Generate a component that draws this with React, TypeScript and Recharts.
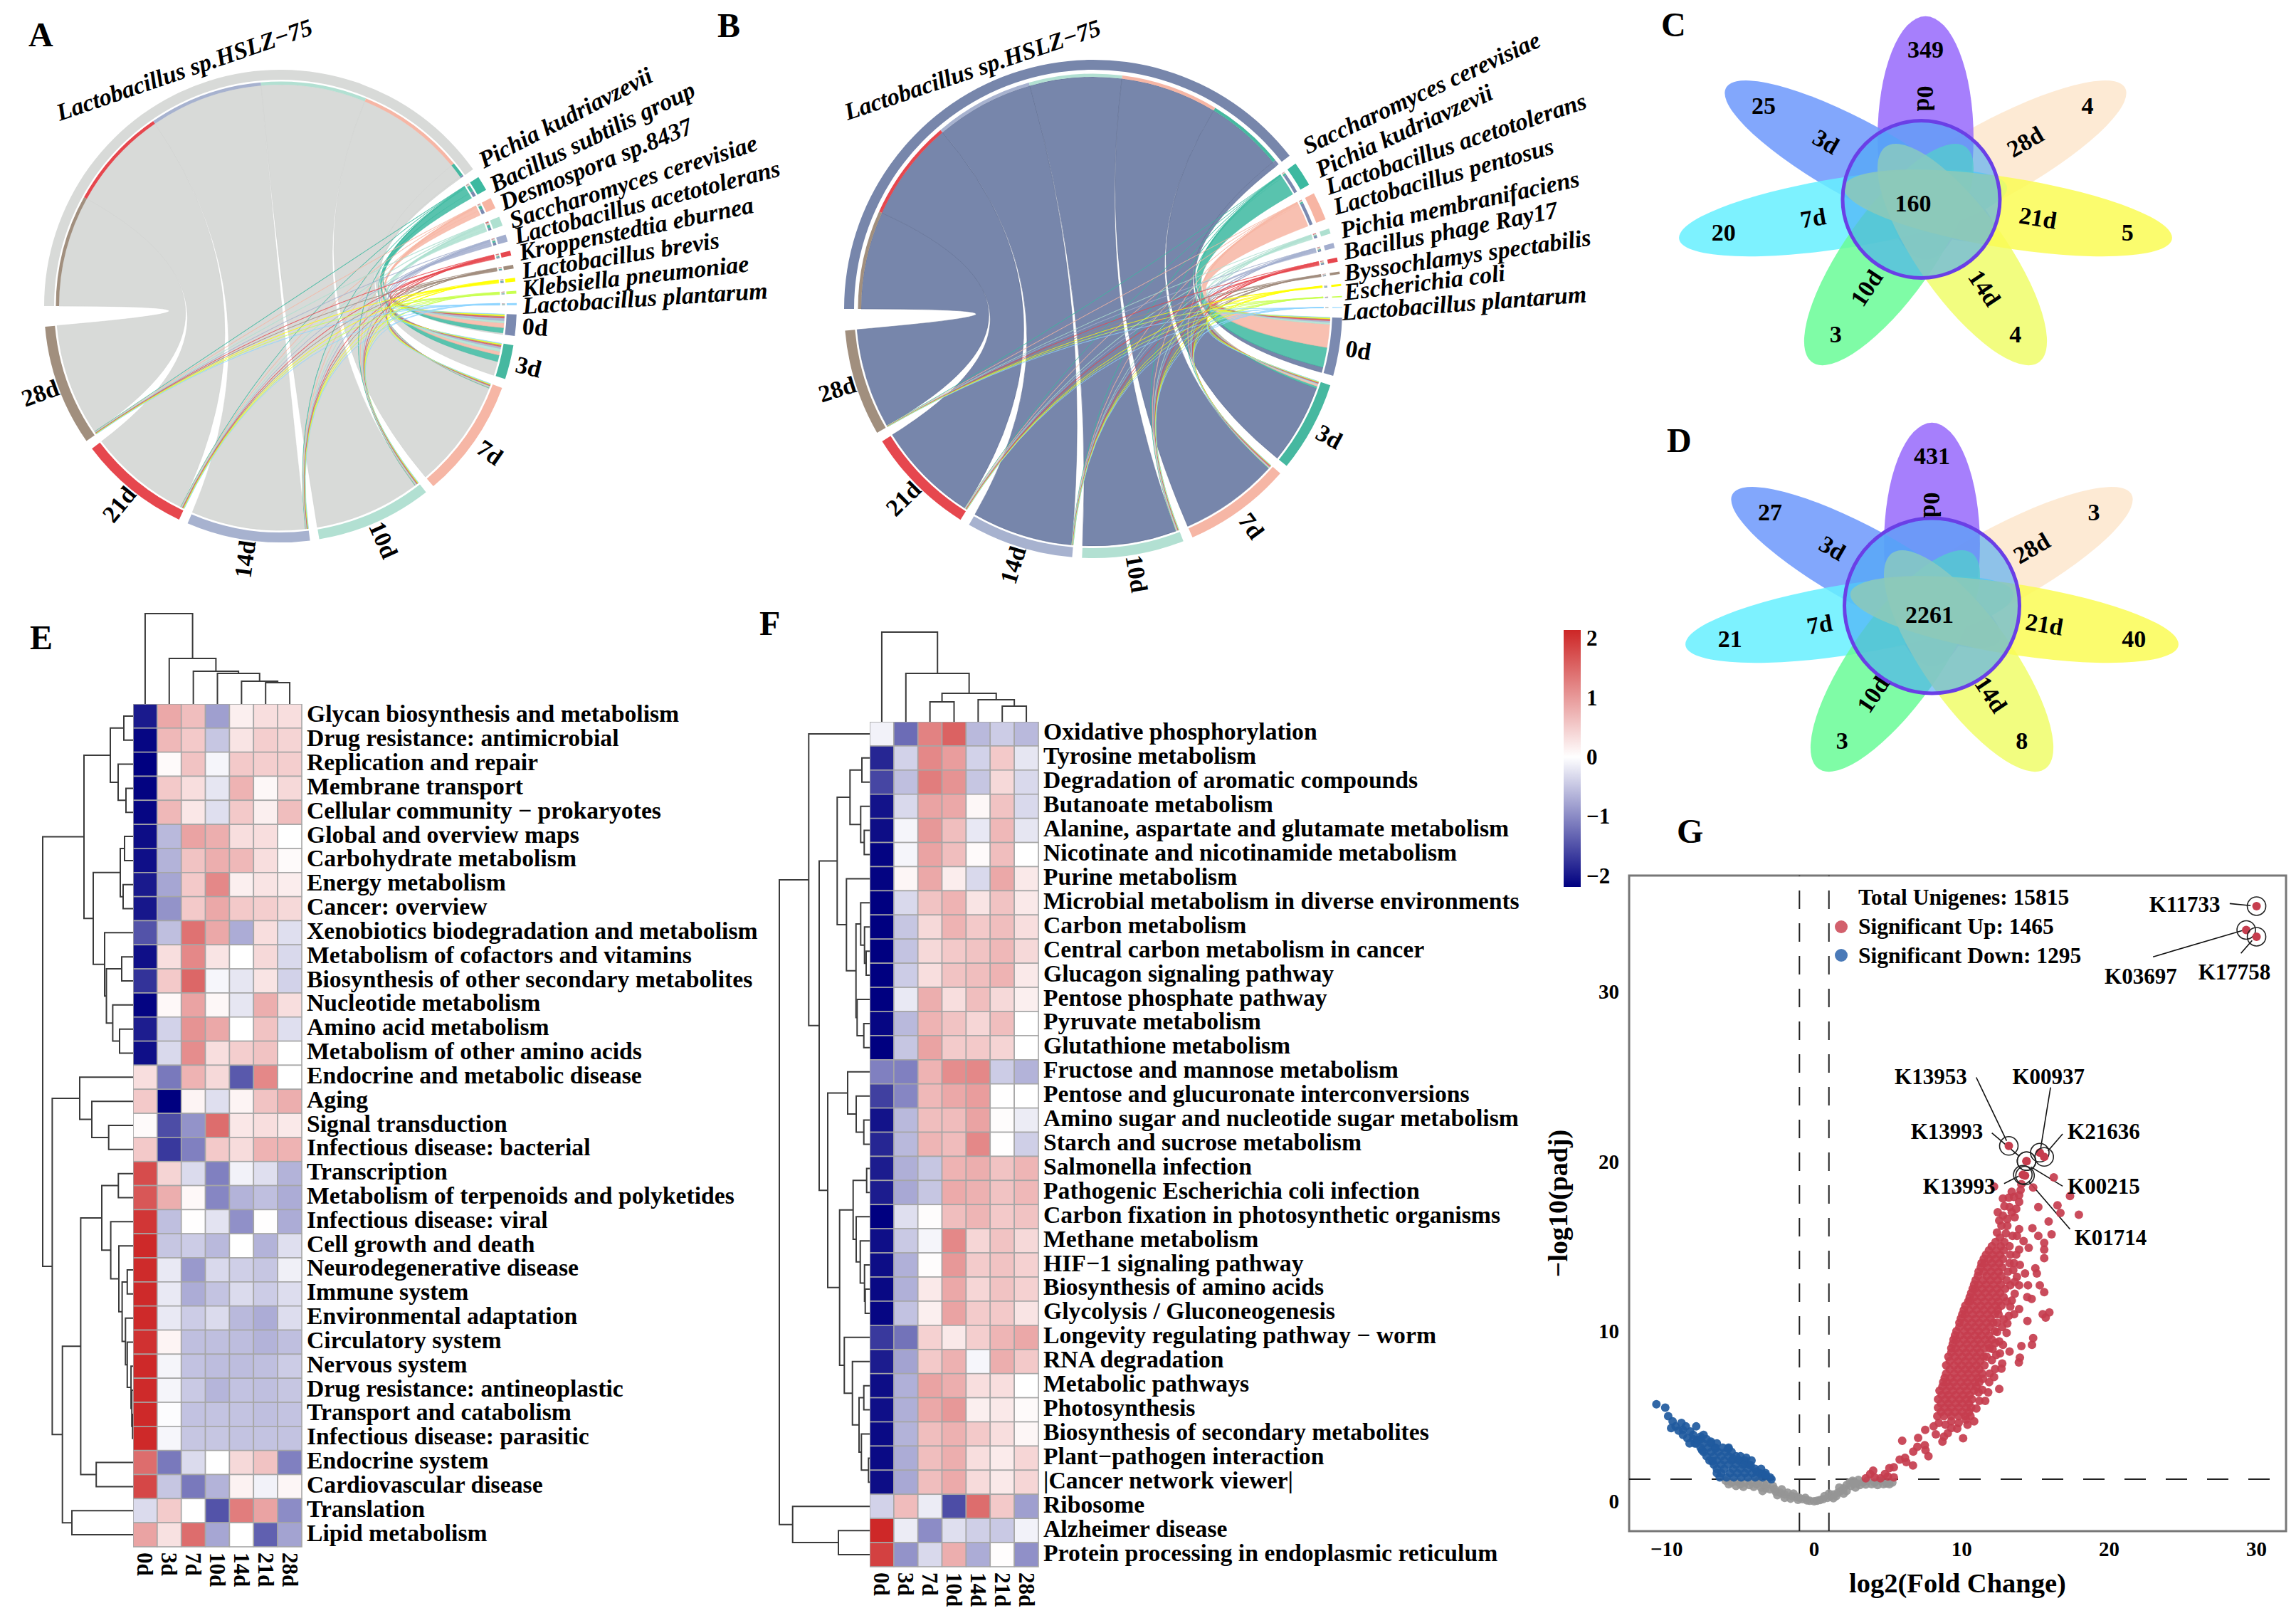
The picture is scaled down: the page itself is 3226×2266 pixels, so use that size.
import React from 'react';
import {
    PieChart, Pie, Cell, Sector, Customized, ScatterChart, Scatter, XAxis, YAxis,
    LineChart, Line, BarChart, Bar, ReferenceLine, ReferenceArea
} from 'recharts';

const SERIF = '"Liberation Serif", "Times New Roman", serif';

const days = ['0d', '3d', '7d', '10d', '14d', '21d', '28d'];
const dayColors = ['#7b8ab0', '#46b8a0', '#f6b6a5', '#b2e0d2', '#a7b2cf', '#e6474e', '#a18f7e'];
const speciesColors = ['#3cb9a0', '#f7b5a3', '#aee0d0', '#a3aece', '#e6474e', '#a08c7c', '#ffff00', '#c8ff50', '#8fd5ff'];

// chord A
const speciesA = ['Lactobacillus sp.HSLZ−75', 'Pichia kudriavzevii', 'Bacillus subtilis group', 'Desmospora sp.8437', 'Saccharomyces cerevisiae', 'Lactobacillus acetotolerans', 'Kroppenstedtia eburnea', 'Lactobacillus brevis', 'Klebsiella pneumoniae', 'Lactobacillus plantarum'];
const flowsA = [
    [0.4, 3.6, 28, 27.2, 29.3, 26.3, 28.8],
    [1.3, 1.7, 0.15, 0.15, 0.1, 0.1, 0.1],
    [1.2, 0.9, 0.15, 0.15, 0.1, 0.1, 0.1],
    [0.6, 0.8, 0.2, 0.2, 0.15, 0.2, 0.15],
    [0.7, 0.5, 0.15, 0.15, 0.1, 0.1, 0.1],
    [0.3, 0.25, 0.15, 0.15, 0.1, 0.15, 0.1],
    [0.2, 0.2, 0.12, 0.12, 0.08, 0.1, 0.08],
    [0.3, 0.2, 0.1, 0.1, 0.05, 0.1, 0.05],
    [0.1, 0.12, 0.12, 0.1, 0.08, 0.1, 0.08],
    [0.1, 0.1, 0.08, 0.06, 0.05, 0.06, 0.05]
];
const labelPosA = [
    [84, 170, -18.9], [680, 237, -27.2], [695, 271, -25.7], [708, 296, -22.3], [720, 321, -17.7],
    [726, 343, -14.5], [732, 366, -11.6], [735, 392, -9], [735, 417, -6.4], [735, 441, -3.6]
];

// chord B
const speciesB = ['Lactobacillus sp.HSLZ−75', 'Saccharomyces cerevisiae', 'Pichia kudriavzevii', 'Lactobacillus acetotolerans', 'Lactobacillus pentosus', 'Pichia membranifaciens', 'Bacillus phage Ray17', 'Byssochlamys spectabilis', 'Escherichia coli', 'Lactobacillus plantarum'];
const flowsB = [
    [1.3, 19.6, 24.3, 23.1, 24.8, 25.2, 24.6],
    [4.9, 0.5, 0.15, 0.1, 0.05, 0.05, 0.05],
    [5.7, 0.4, 0.15, 0.15, 0.05, 0.1, 0.05],
    [0.5, 0.2, 0.1, 0.15, 0.05, 0.15, 0.05],
    [0.4, 0.2, 0.2, 0.15, 0.1, 0.1, 0.05],
    [0.3, 0.15, 0.2, 0.1, 0.05, 0.15, 0.05],
    [0.15, 0.1, 0.1, 0.1, 0.05, 0.05, 0.05],
    [0.2, 0.1, 0.05, 0.05, 0.02, 0.05, 0.03],
    [0.1, 0.05, 0.05, 0.03, 0.03, 0.02, 0.02],
    [0.05, 0.05, 0.03, 0.02, 0.02, 0.02, 0.01]
];
const labelPosB = [
    [1191, 169, -18.6], [1837, 217, -24.8], [1855, 250, -24.5], [1867, 274, -18.6], [1877, 302, -15.7],
    [1886, 335, -12.4], [1890, 365, -11.2], [1890, 395, -8.3], [1890, 422, -7], [1886, 450, -4.3]
];

// venn
const countsC = [349, 25, 20, 3, 4, 5, 4];
const countsD = [431, 27, 21, 3, 8, 40, 3];
const petalColors = ['#9669fb', '#6c98fb', '#66f0ff', '#68fb96', '#f0fd6a', '#fafc55', '#fde6cd'];
const petalOrder = [6, 0, 1, 2, 3, 4, 5];

// heatmap E
const namesE = ['Glycan biosynthesis and metabolism', 'Drug resistance: antimicrobial', 'Replication and repair', 'Membrane transport', 'Cellular community − prokaryotes', 'Global and overview maps', 'Carbohydrate metabolism', 'Energy metabolism', 'Cancer: overview', 'Xenobiotics biodegradation and metabolism', 'Metabolism of cofactors and vitamins', 'Biosynthesis of other secondary metabolites', 'Nucleotide metabolism', 'Amino acid metabolism', 'Metabolism of other amino acids', 'Endocrine and metabolic disease', 'Aging', 'Signal transduction', 'Infectious disease: bacterial', 'Transcription', 'Metabolism of terpenoids and polyketides', 'Infectious disease: viral', 'Cell growth and death', 'Neurodegenerative disease', 'Immune system', 'Environmental adaptation', 'Circulatory system', 'Nervous system', 'Drug resistance: antineoplastic', 'Transport and catabolism', 'Infectious disease: parasitic', 'Endocrine system', 'Cardiovascular disease', 'Translation', 'Lipid metabolism'];
const valuesE = [
    [-1.8, 0.8, 0.6, -0.75, 0.15, 0.3, 0.3],
    [-1.95, 0.65, 0.5, -0.45, 0.25, 0.45, 0.4],
    [-2, 0.05, 0.55, -0.08, 0.5, 0.45, 0.45],
    [-1.98, 0.5, 0.3, -0.2, 0.7, 0.07, 0.35],
    [-1.95, 0.65, 0.22, -0.25, 0.5, 0.15, 0.6],
    [-1.9, -0.55, 0.85, 0.75, 0.3, 0.3, 0],
    [-1.88, -0.6, 0.55, 0.75, 0.65, 0.3, 0.05],
    [-1.8, -0.7, 0.5, 1.1, 0.15, 0.25, 0.17],
    [-1.82, -0.85, 0.5, 0.8, 0.5, 0.45, 0.35],
    [-1.35, -0.5, 1.3, 0.8, -0.65, 0.3, -0.25],
    [-1.88, 0.3, 1.1, 0.25, 0, 0.35, -0.3],
    [-1.6, 0.5, 1.4, -0.07, -0.2, 0.25, -0.35],
    [-1.97, 0.06, 0.85, 0.07, -0.2, 0.75, 0.3],
    [-1.77, -0.35, 1, 0.8, 0, 0.55, -0.25],
    [-1.88, -0.3, 1.05, 0.3, 0.45, 0.55, 0],
    [0.3, -1.05, 0.7, 0.35, -1.3, 1.1, 0],
    [0.5, -2, 0.1, -0.25, 0.1, 0.55, 0.75],
    [0.05, -1.4, -0.85, 1.35, 0.22, 0.3, 0.2],
    [0.5, -1.55, -1, 0.5, 0.32, 0.7, 0.7],
    [1.65, 0.4, -0.28, -1, -0.1, -0.25, -0.6],
    [1.55, 0.75, 0.06, -0.95, -0.6, -0.5, -0.65],
    [1.85, -0.5, 0.01, -0.22, -0.87, 0.01, -0.65],
    [1.97, -0.45, -0.4, -0.55, 0, -0.6, -0.25],
    [1.95, -0.17, -0.8, -0.3, -0.38, -0.45, -0.12],
    [1.96, -0.17, -0.65, -0.47, -0.28, -0.4, -0.27],
    [1.96, -0.17, -0.4, -0.28, -0.55, -0.65, -0.27],
    [1.9, 0.1, -0.5, -0.5, -0.52, -0.6, -0.5],
    [1.97, -0.08, -0.48, -0.52, -0.52, -0.5, -0.4],
    [1.96, -0.08, -0.42, -0.58, -0.48, -0.5, -0.45],
    [1.97, -0.02, -0.48, -0.47, -0.47, -0.5, -0.47],
    [1.97, -0.07, -0.45, -0.45, -0.47, -0.47, -0.47],
    [1.35, -1.05, -0.28, 0, 0.35, 0.55, -1],
    [1.7, -0.45, -1.05, -0.6, 0.12, -0.1, 0.08],
    [-0.28, 0.48, 0, -1.35, 1.2, 0.85, -0.9],
    [0.85, 0.28, 1.35, -0.7, 0, -1.25, -0.72]
];
// tree node: [height, left, right], a leaf is its row or column number
const rowTreeE = [127,
    [69,
        [32, [13, 0, 1], [21, 2, [10, 3, 4]]],
        [56, [18, [12, 5, 6], [14, 7, 8]], [40, 9, [37.5, [16, 10, 11], [28.6, 12, [19, 13, 14]]]]]],
    [113.6,
        [75, 15, [58, 16, [34.3, 17, 18]]],
        [99.3,
            [73.6,
                [44, [20.7, 19, 20], [31.4, 21, [20, 22, [15.4, [8.2, 23, 24], [10.7, 25, [8.2, 26, [2.9, 27, [1.8, 28, [0.7, 29, 30]]]]]]]]],
                [51.8, 31, 32]],
            [86, 33, 34]]]];
const colTreeE = [127, 0, [64, 1, [46, 2, [43, 3, [32, 4, [30, 5, 6]]]]]];

// heatmap F
const namesF = ['Oxidative phosphorylation', 'Tyrosine metabolism', 'Degradation of aromatic compounds', 'Butanoate metabolism', 'Alanine, aspartate and glutamate metabolism', 'Nicotinate and nicotinamide metabolism', 'Purine metabolism', 'Microbial metabolism in diverse environments', 'Carbon metabolism', 'Central carbon metabolism in cancer', 'Glucagon signaling pathway', 'Pentose phosphate pathway', 'Pyruvate metabolism', 'Glutathione metabolism', 'Fructose and mannose metabolism', 'Pentose and glucuronate interconversions', 'Amino sugar and nucleotide sugar metabolism', 'Starch and sucrose metabolism', 'Salmonella infection', 'Pathogenic Escherichia coli infection', 'Carbon fixation in photosynthetic organisms', 'Methane metabolism', 'HIF−1 signaling pathway', 'Biosynthesis of amino acids', 'Glycolysis / Gluconeogenesis', 'Longevity regulating pathway − worm', 'RNA degradation', 'Metabolic pathways', 'Photosynthesis', 'Biosynthesis of secondary metabolites', 'Plant−pathogen interaction', '|Cancer network viewer|', 'Ribosome', 'Alzheimer disease', 'Protein processing in endoplasmic reticulum'];
const valuesF = [
    [-0.1, -1.15, 1.15, 1.45, -0.55, -0.4, -0.55],
    [-1.7, -0.35, 1.1, 0.9, -0.35, 0.5, -0.2],
    [-1.45, -0.5, 1.2, 1, -0.45, 0.35, -0.3],
    [-1.85, -0.3, 0.85, 0.8, 0.07, 0.55, -0.3],
    [-1.9, -0.08, 0.95, 0.6, -0.18, 0.65, -0.2],
    [-1.97, -0.08, 0.85, 0.6, 0.05, 0.6, 0],
    [-1.97, 0.08, 0.8, 0.17, -0.3, 0.8, 0.2],
    [-2, -0.3, 0.55, 0.7, 0.25, 0.55, 0.2],
    [-2, -0.45, 0.35, 0.7, 0.5, 0.6, 0.3],
    [-2, -0.47, 0.35, 0.5, 0.55, 0.65, 0.35],
    [-2, -0.4, 0.3, 0.55, 0.6, 0.7, 0.2],
    [-2, -0.17, 0.75, 0.3, 0.6, 0.35, 0.15],
    [-1.95, -0.55, 0.7, 0.55, 0.38, 0.6, 0],
    [-2, -0.45, 0.85, 0.48, 0.5, 0.4, 0],
    [-1, -1, 0.7, 1.05, 1.1, -0.4, -0.6],
    [-1.5, -0.95, 0.65, 0.8, 0.9, 0.01, 0],
    [-1.85, -0.55, 0.6, 0.62, 0.85, 0.03, -0.15],
    [-1.7, -0.55, 0.68, 0.62, 1.1, 0.01, -0.38],
    [-1.78, -0.63, -0.45, 0.7, 0.75, 0.55, 0.68],
    [-1.78, -0.68, -0.45, 0.78, 0.72, 0.55, 0.65],
    [-2, -0.25, 0.03, 0.6, 0.68, 0.5, 0.55],
    [-1.88, -0.42, -0.08, 1.1, 0.38, 0.55, 0.35],
    [-1.9, -0.62, 0.03, 0.95, 0.48, 0.55, 0.42],
    [-1.93, -0.62, 0.2, 0.8, 0.38, 0.55, 0.42],
    [-1.95, -0.48, 0.15, 0.85, 0.48, 0.5, 0.25],
    [-1.55, -1.1, 0.42, 0.2, 0.45, 0.68, 0.8],
    [-1.78, -0.72, 0.5, 0.72, -0.07, 0.75, 0.5],
    [-1.9, -0.62, 0.85, 0.75, 0.3, 0.3, 0],
    [-1.88, -0.63, 0.8, 0.95, 0.15, 0.2, 0.05],
    [-1.92, -0.6, 0.6, 0.72, 0.5, 0.3, 0.08],
    [-1.92, -0.65, 0.6, 0.75, 0.3, 0.18, 0.38],
    [-1.9, -0.68, 0.6, 0.78, 0.33, 0.2, 0.38],
    [-0.35, 0.62, -0.15, -1.4, 1.35, 0.5, -0.75],
    [1.98, -0.15, -0.9, -0.25, -0.38, -0.42, -0.1],
    [1.75, -0.85, -0.3, 0.75, -0.65, 0.02, -0.87]
];
const rowTreeF = [127,
    [85.7, 0, [71,
        [45.7,
            [27.7, [11, 1, 2], [12.7, 3, [7.7, 4, 5]]],
            [32.7, 6, [19.3, [12.7, 7, [7.3, 8, [5, 9, 10]]], [17.7, 11, [8.3, 12, 13]]]]],
        [59,
            [31, 14, [19, 15, [8.3, 16, 17]]],
            [42.3,
                [23.3, [4.3, 18, 19], [19, 20, [13.3, 21, [7.3, 22, [6.3, 23, 24]]]]],
                [35.7, 25, [24.3, 26, [15, [8.3, 27, 28], [11.7, 29, [1.7, 30, 31]]]]]]]]],
    [108.3, 32, [44, 33, 34]]];
const colTreeF = [126, 0, [68, 1, [40, [28, 2, 3], [31, 4, [22, 5, 6]]]]];

const scaleTicks = [-2, -1, 0, 1, 2];

// volcano. Rows are [y, x, x, ...] for the packed parts of the clouds
const downRows = [
    [1.4, -6.4, -5.95, -5.45, -4.95, -4.5, -4, -3.5, -3],
    [1.65, -6.3, -5.7, -5.2, -4.7, -4.2, -3.7, -3.3],
    [1.9, -6.6, -6.1, -5.5, -5, -4.5, -4, -3.6],
    [2.15, -6.8, -6.3, -5.8, -5.3, -4.8, -4.4],
    [2.4, -7.1, -6.6, -6.1, -5.6, -5.1, -4.7],
    [2.65, -7.3, -6.8, -6.3, -5.8, -5.3, -5],
    [2.9, -7.5, -7, -6.5, -6, -5.6],
    [3.15, -7.7, -7.2, -6.7, -6.2, -5.8],
    [3.4, -8, -7.5, -7, -6.6],
    [3.65, -8.2, -7.7, -7.3]
];
const downPoints = [
    [-10.7, 5.7], [-10.1, 5.5], [-9.9, 5.0], [-9.6, 4.7], [-9.4, 4.4], [-9.0, 4.6], [-9.7, 4.3], [-8.9, 4.2], [-8.7, 4.4], [-8.4, 4.1],
    [-8.2, 3.9], [-8.0, 4.4], [-8.6, 3.7], [-8.9, 3.9], [-8.1, 3.4], [-7.9, 3.6], [-7.7, 3.8], [-7.5, 3.9], [-7.0, 3.5], [-6.7, 3.1],
    [-5.5, 2.5], [-5.1, 2.4], [-4.7, 2.2], [-4.3, 2.1], [-3.9, 1.75], [-3.5, 1.6], [-2.9, 1.3], [-5.83, 3.1], [-4.6, 2.55],
    [-9.2, 4.15], [-8.45, 3.4], [-7.6, 3.0], [-6.9, 2.35], [-6.6, 1.65], [-4.25, 2.4], [-3.3, 1.55]
];
const nsPoints = [
    [-6.0, 1.2], [-5.6, 1.1], [-5.2, 1.15], [-5.0, 1.0], [-4.7, 1.1], [-4.4, 0.95], [-4.1, 0.85], [-3.9, 1.0], [-3.6, 0.8], [-3.3, 0.75],
    [-3.2, 1.05], [-3.0, 0.7], [-2.8, 0.9], [-2.6, 0.55], [-2.3, 0.5], [-2.0, 0.4], [-1.8, 0.5], [-1.5, 0.3], [-1.2, 0.25], [-1.0, 0.2],
    [-0.8, 0.12], [-0.5, 0.05], [-0.3, 0.03], [0, 0], [0.2, 0.03], [0.4, 0.07], [0.6, 0.12], [0.9, 0.2], [1.1, 0.28], [1.3, 0.4],
    [1.6, 0.5], [1.8, 0.6], [2.0, 0.75], [2.2, 0.95], [2.4, 1.1], [2.5, 0.9], [2.6, 1.2], [2.9, 1.05], [3.1, 0.95], [3.3, 1.1],
    [3.6, 1.2], [4.1, 1.1], [4.5, 1.2], [4.9, 1.05], [5.3, 1.1], [-5.3, 0.9], [-4.8, 0.85], [-3.5, 0.6], [-2.5, 0.35], [-1.6, 0.15],
    [1.5, 0.3], [2.2, 0.6], [2.8, 0.8], [-2.2, 0.7], [-1.4, 0.45], [1.0, 0.45], [1.7, 0.8], [3.0, 1.25], [-3.8, 1.2],
    [-5.8, 1.0], [-4.3, 1.15], [-3.4, 0.95], [-2.7, 0.72], [-2.0, 0.2], [-1.1, 0.08], [-0.6, 0.2], [0.7, 0.3], [1.3, 0.18], [2.0, 0.45],
    [2.7, 1.05], [3.5, 0.98], [3.9, 1.0], [4.3, 0.95], [4.7, 1.0], [5.1, 1.0]
];
const upRows = [
    [5.0, 8.35, 8.8, 9.3, 9.8, 10.25, 10.6],
    [5.25, 8.6, 9.1, 9.55, 10.05, 10.5],
    [5.5, 8.4, 8.85, 9.3, 9.8, 10.3, 10.65],
    [5.75, 8.6, 9.1, 9.6, 10.05, 10.5],
    [6.0, 8.4, 8.9, 9.35, 9.85, 10.3, 10.7],
    [6.25, 8.65, 9.1, 9.6, 10.1, 10.55],
    [6.5, 8.5, 8.95, 9.4, 9.9, 10.35, 10.85],
    [6.75, 8.7, 9.2, 9.65, 10.15, 10.6, 11.0],
    [7.0, 8.75, 9.0, 9.45, 9.95, 10.4, 10.9, 11.2],
    [7.25, 8.85, 9.25, 9.7, 10.2, 10.65, 11.1],
    [7.5, 8.95, 9.5, 10.0, 10.45, 10.95, 11.4],
    [7.75, 9.2, 9.75, 10.25, 10.7, 11.2],
    [8.0, 8.95, 9.5, 10.0, 10.5, 11.0, 11.55],
    [8.25, 9.2, 9.75, 10.25, 10.75, 11.25],
    [8.5, 9.1, 9.55, 10.05, 10.5, 11.0, 11.5, 11.7],
    [8.75, 9.3, 9.8, 10.3, 10.8, 11.25],
    [9.0, 9.3, 9.6, 10.1, 10.55, 11.05, 11.55, 11.9],
    [9.25, 9.4, 9.85, 10.35, 10.85, 11.3, 11.8],
    [9.5, 9.45, 9.65, 10.15, 10.6, 11.1, 11.6, 12.05],
    [9.75, 9.55, 9.9, 10.4, 10.9, 11.35, 11.85],
    [10, 9.65, 10.2, 10.65, 11.15, 11.65, 12.25],
    [10.25, 9.85, 10.4, 10.9, 11.4, 11.9],
    [10.5, 9.85, 10.2, 10.7, 11.2, 11.7, 12.15, 12.4],
    [10.75, 9.95, 10.45, 10.95, 11.45, 11.95],
    [11, 10.05, 10.25, 10.75, 11.25, 11.75, 12.25, 12.5],
    [11.25, 10.15, 10.5, 11.0, 11.5, 12.0, 12.45],
    [11.5, 10.25, 10.8, 11.3, 11.8, 12.3, 12.7],
    [11.75, 10.45, 10.55, 11.05, 11.55, 12.05, 12.5],
    [12, 10.55, 10.85, 11.35, 11.85, 12.35, 12.85],
    [12.25, 10.65, 11.1, 11.6, 12.1, 12.6],
    [12.5, 10.75, 10.9, 11.4, 11.9, 12.4, 12.95],
    [12.75, 10.85, 11.15, 11.65, 12.15, 12.65],
    [13, 10.95, 11.45, 11.95, 12.45, 13.05],
    [13.25, 11.1, 11.7, 12.2, 12.7],
    [13.5, 11.15, 11.5, 12.0, 12.5, 13.15],
    [13.75, 11.3, 11.75, 12.25, 12.75],
    [14, 11.35, 11.55, 12.05, 12.55, 13.25],
    [14.25, 11.5, 11.85, 12.3, 12.8],
    [14.5, 11.65, 12.1, 12.6, 13.3],
    [14.75, 11.85, 12.35, 12.85],
    [15, 12.05, 12.65, 13.25],
    [15.25, 12.3, 12.9]
];
const upPoints = [
    [3.5, 1.35], [3.8, 1.6], [4.0, 1.8], [4.1, 1.4], [4.5, 1.35], [4.8, 1.6], [5.0, 1.45], [5.1, 1.95], [5.4, 1.4], [5.4, 2.0],
    [5.8, 2.45], [5.97, 3.56], [6.16, 2.55], [6.25, 2.3], [6.7, 2.1], [6.72, 2.92], [7.05, 3.72], [7.5, 3.3], [7.55, 3.0], [7.53, 4.2],
    [7.75, 2.65], [8.1, 4.4], [7.0, 3.2], [8.25, 3.93], [8.8, 3.8], [9.06, 4.0], [9.7, 4.27], [10.1, 3.7], [10.4, 4.5], [8.7, 3.5],
    [8.45, 4.6], [8.9, 4.5], [9.3, 4.7], [9.8, 4.6], [10.3, 4.8], [10.85, 4.7], [9.3, 4.3],
    [11.6, 5.9], [11.15, 6.4], [12.55, 6.6], [11.87, 7.0], [11.45, 7.2], [12.27, 7.78], [12.75, 8.1], [12.7, 7.8], [13.88, 8.16],
    [13.95, 8.45], [13.25, 8.8], [12.6, 8.7], [14.05, 9.13], [14.77, 9.2], [14.85, 9.6], [12.8, 9.2], [13.05, 9.9], [12.55, 9.4],
    [14.46, 10.6], [15.5, 11.0], [15.7, 10.8], [15.95, 11.1], [13.56, 11.0], [13.9, 11.3], [12.85, 10.7], [13.2, 10.9], [14.45, 12.0],
    [14.75, 11.9], [15.6, 12.3], [15.3, 12.7], [14.5, 12.7], [13.9, 12.7], [13.4, 11.8], [13.6, 12.2], [13.95, 13.9], [14.3, 13.4],
    [15.0, 13.7], [15.1, 13.4], [13.75, 13.2], [13.55, 14.0], [15.6, 14.3], [15.6, 14.8], [15.6, 15.2], [14.55, 14.9], [13.9, 14.8],
    [14.2, 15.3], [13.75, 15.6], [15.2, 15.6], [16.1, 15.7], [13.9, 16.0], [14.8, 16.05], [15.9, 16.45], [12.4, 15.8], [12.7, 16.2],
    [13.1, 16.2], [12.8, 16.8], [13.1, 16.6], [13.6, 16.7], [12.45, 17.0], [13.4, 17.0], [16.7, 16.95], [17.95, 16.85], [12.8, 17.8],
    [13.2, 17.85], [13.9, 17.6], [15.2, 17.3], [16.5, 17.4], [13.9, 18.0], [17.35, 17.95], [12.2, 18.5], [13.4, 18.2], [14.05, 18.65],
    [14.85, 18.45], [16.25, 19.05], [14.0, 18.3],
    [12.1, 8.95], [12.4, 9.95], [12.75, 10.25], [13.1, 10.45], [13.3, 11.45], [13.05, 11.75], [13.3, 12.7], [13.6, 12.9], [13.5, 13.6],
    [13.7, 14.5], [13.45, 15.6], [13.0, 15.75], [12.6, 15.5], [12.55, 16.5], [13.25, 17.3], [12.9, 17.35], [13.7, 17.2], [13.55, 17.9],
    [11.8, 6.4], [11.4, 6.55], [11.9, 7.5], [12.2, 7.3], [12.05, 8.3], [12.35, 8.6], [11.2, 5.9], [11.0, 5.45], [12.3, 9.3]
];
const genePoints = [
    { name: 'K11733', x: 30, y: 35 }, { name: 'K03697', x: 29.3, y: 33.6 }, { name: 'K17758', x: 30, y: 33.2 },
    { name: 'K13953', x: 13.2, y: 20.9 }, { name: 'K13993', x: 14.4, y: 20 }, { name: 'K00937', x: 15.3, y: 20.5 },
    { name: 'K21636', x: 15.6, y: 20.25 }, { name: 'K00215', x: 14.4, y: 20 }, { name: 'K13993', x: 14.15, y: 19.2 },
    { name: 'K01714', x: 14.3, y: 19.15 }
];
const geneLabels = [
    { name: 'K11733', x: 25.13, y: 35.12 }, { name: 'K03697', x: 22.15, y: 30.89 }, { name: 'K17758', x: 28.5, y: 31.13 },
    { name: 'K13953', x: 7.91, y: 24.99 }, { name: 'K00937', x: 15.89, y: 24.99 }, { name: 'K13993', x: 9, y: 21.75 },
    { name: 'K21636', x: 19.64, y: 21.75 }, { name: 'K00215', x: 19.64, y: 18.53 }, { name: 'K13993', x: 9.83, y: 18.53 },
    { name: 'K01714', x: 20.1, y: 15.52 }
];
const geneLeaders = [
    [28.18, 35.15, 29.6, 35.03], [22.98, 32.02, 29.04, 33.57], [28.94, 32.23, 29.7, 32.98], [10.99, 24.93, 13.05, 21.2],
    [16.03, 24.34, 15.36, 20.76], [12.05, 21.66, 13.87, 20.32], [16.85, 21.6, 15.86, 20.61], [16.85, 18.53, 14.7, 19.66],
    [12.88, 18.68, 13.87, 19.12], [17.35, 16, 14.54, 18.83]
];
const volcanoXTicks = [-10, 0, 10, 20, 30];
const volcanoYTicks = [0, 10, 20, 30];

const sum = (list: number[]) => list.reduce((a, b) => a + b, 0);

// same sums as Pie does, so the ribbons land on the ring sectors
const START_ANGLE = 180;
const END_ANGLE = -175;
const PAD = 2.27;

function chordLayout(species: string[], flows: number[][], lactoColor: string) {
    const sectors: any[] = [
        ...species.map((name, i) => ({ name, value: sum(flows[i]), color: i === 0 ? lactoColor : speciesColors[i - 1] })),
        ...days.map((name, j) => ({ name, value: sum(flows.map(r => r[j])), color: dayColors[j] }))
    ];
    const total = sum(sectors.map(s => s.value));
    const perUnit = (START_ANGLE - END_ANGLE - (sectors.length - 1) * PAD) / total;
    let angle = START_ANGLE;
    sectors.forEach(s => {
        s.start = angle;
        s.end = angle - s.value * perUnit;
        angle = s.end - PAD;
    });
    const links: any[] = [];
    species.forEach((_, i) => {
        let cursor = sectors[i].start;
        for (let j = days.length - 1; j >= 0; j--) {
            links.push({ i, j, a0: cursor, a1: cursor - flows[i][j] * perUnit });
            cursor -= flows[i][j] * perUnit;
        }
    });
    days.forEach((_, j) => {
        let cursor = sectors[species.length + j].start;
        for (let i = species.length - 1; i >= 0; i--) {
            const link = links.find(l => l.i === i && l.j === j);
            link.b0 = cursor;
            link.b1 = cursor - flows[i][j] * perUnit;
            cursor = link.b1;
        }
    });
    return { sectors, links };
}

function ChordPanel({ species, flows, labelPos, lactoColor, seamColor, cx, cy, radius, trackIn }: any) {
    const { sectors, links } = chordLayout(species, flows, lactoColor);
    const ringIn = radius - 14;
    const dayR = radius - 17;
    const pt = (a: number, r: number) => {
        const t = a * Math.PI / 180;
        return `${(cx + r * Math.cos(t)).toFixed(2)} ${(cy - r * Math.sin(t)).toFixed(2)}`;
    };
    const ribbon = (l: any) => {
        const r = l.i === 0 ? trackIn : trackIn - 2.5;
        return `M${pt(l.a0, r)} A${r} ${r} 0 0 1 ${pt(l.a1, r)} Q${cx} ${cy} ${pt(l.b0, dayR)} ` +
            `A${dayR} ${dayR} 0 0 1 ${pt(l.b1, dayR)} Q${cx} ${cy} ${pt(l.a0, r)} Z`;
    };
    const dayLabelR = radius + 27;

    const Layer = () => (
        <g fontFamily={SERIF} fontWeight="bold" fontSize={34} fill="#000">
            {links.map((l: any, k: number) => (
                <path key={k} d={ribbon(l)} fill={sectors[l.i].color} fillOpacity={l.i === 0 ? 1 : 0.85}
                    stroke={l.i === 0 ? seamColor : sectors[l.i].color} strokeWidth={l.i === 0 ? 0.7 : 0.6} strokeOpacity={0.8} />
            ))}
            {links.map((l: any, k: number) => (
                <Sector key={k} cx={cx} cy={cy} innerRadius={trackIn} outerRadius={trackIn + 4.5}
                    startAngle={l.a0} endAngle={l.a1} fill={dayColors[l.j]} />
            ))}
            {species.map((name: string, i: number) => (
                <text key={i} fontStyle="italic"
                    transform={`translate(${labelPos[i][0]},${labelPos[i][1]}) rotate(${labelPos[i][2]})`}>{name}</text>
            ))}
            {days.map((d, j) => {
                const s = sectors[species.length + j];
                const mid = (s.start + s.end) / 2;
                const t = mid * Math.PI / 180;
                const rot = mid > -90 ? -mid : -mid - 180;
                return (
                    <text key={d} textAnchor="middle" dominantBaseline="central"
                        transform={`translate(${cx + dayLabelR * Math.cos(t)},${cy - dayLabelR * Math.sin(t)}) rotate(${rot})`}>{d}</text>
                );
            })}
        </g>
    );

    return (
        <div style={{ position: 'absolute', left: 0, top: 0 }}>
            <PieChart width={2250} height={860} margin={{ top: 0, right: 0, bottom: 0, left: 0 }}>
                <Customized component={Layer} />
                <Pie data={sectors} dataKey="value" cx={cx} cy={cy} startAngle={START_ANGLE} endAngle={END_ANGLE}
                    innerRadius={ringIn} outerRadius={radius} paddingAngle={PAD} stroke="none" isAnimationActive={false}>
                    {sectors.map((s: any, i: number) => <Cell key={i} fill={s.color} />)}
                </Pie>
            </PieChart>
        </div>
    );
}

function VennPanel({ counts, core, centerX, centerY, coreR, coreX, labelX, labelY }: any) {
    const unitX = 887 / 2.5;
    const unitY = 540 / 2.1;
    const petals = days.map((day, i) => {
        const angle = 90 + i * 360 / 7;
        const t = angle * Math.PI / 180;
        return { day, count: counts[i], angle, color: petalColors[i], x: 0.335 * Math.cos(t), y: 0.335 * Math.sin(t) };
    });
    const drawOrder = petalOrder.map(i => petals[i]);
    const Petal = (p: any) => {
        const d = p.payload ?? p;
        return (
            <g transform={`translate(${p.cx},${p.cy}) scale(${unitX},${unitY}) rotate(${-d.angle})`}>
                <ellipse rx={0.665} ry={0.19} fill={d.color} fillOpacity={0.85} />
            </g>
        );
    };
    const PetalText = (p: any) => {
        const d = p.payload ?? p;
        const t = d.angle * Math.PI / 180;
        const c = Math.cos(t);
        const s = Math.sin(t);
        let rot = -Math.atan2(unitY * s, unitX * c) * 180 / Math.PI;
        if (c < -0.01) rot += 180;
        if (Math.abs(c) < 0.01) rot = 90;
        const textStyle = { fontFamily: SERIF, fontWeight: 'bold', fontSize: 34 } as const;
        const dayStep = 0.43 + 0.12 * Math.abs(s) - 0.335;
        return (
            <g>
                <text x={p.cx + 0.485 * c * unitX} y={p.cy - 0.485 * s * unitY} textAnchor="middle" dominantBaseline="central" style={textStyle}>
                    {d.count}
                </text>
                <text transform={`translate(${p.cx + dayStep * c * unitX},${p.cy - dayStep * s * unitY}) rotate(${rot})`}
                    textAnchor="middle" dominantBaseline="central" style={textStyle}>{d.day}</text>
            </g>
        );
    };
    return (
        <div style={{ position: 'absolute', left: centerX - 443.5, top: centerY - 270 }}>
            <ScatterChart width={887} height={540} margin={{ top: 0, right: 0, bottom: 0, left: 0 }}>
                <XAxis type="number" dataKey="x" domain={[-1.25, 1.25]} hide />
                <YAxis type="number" dataKey="y" domain={[-1.05, 1.05]} hide />
                <Scatter data={drawOrder} shape={Petal} isAnimationActive={false} />
                <Scatter data={[{ x: coreX, y: 0 }]} isAnimationActive={false}
                    shape={(p: any) => <circle cx={p.cx} cy={p.cy} r={coreR} fill="#4aaaf5" fillOpacity={0.62} stroke="#6a3fe6" strokeWidth={5} />} />
                <Scatter data={petals} shape={PetalText} isAnimationActive={false} />
                <Scatter data={[{ x: labelX, y: labelY, core }]} isAnimationActive={false}
                    shape={(p: any) => (
                        <text x={p.cx} y={p.cy} textAnchor="middle" dominantBaseline="central"
                            style={{ fontFamily: SERIF, fontWeight: 'bold', fontSize: 34 }}>{core}</text>
                    )} />
            </ScatterChart>
        </div>
    );
}

function heatColor(v: number) {
    const low = [0, 0, 128];
    const high = [205, 38, 38];
    const end = v < 0 ? low : high;
    const t = Math.min(1, Math.abs(v) / 2);
    const c = end.map(e => Math.round(255 + (e - 255) * t));
    return `rgb(${c[0]},${c[1]},${c[2]})`;
}

function treeLinks(tree: any) {
    const links: number[][][] = [];
    const walk = (n: any): { pos: number; h: number } => {
        if (typeof n === 'number') return { pos: n, h: 0 };
        const a = walk(n[1]);
        const b = walk(n[2]);
        links.push([[a.h, a.pos], [n[0], a.pos], [n[0], b.pos], [b.h, b.pos]]);
        return { pos: (a.pos + b.pos) / 2, h: n[0] };
    };
    walk(tree);
    return links;
}

const DENDRO = 130;
const GRID_W = 237;

function Heatmap({ left, top, gridH, names, values, rowTree, colTree }: any) {
    const cellW = GRID_W / days.length;
    const cellH = gridH / names.length;
    const cells = values.flatMap((row: number[], r: number) => row.map((value, c) => ({ r, c, value })));
    const Cellbox = (p: any) => {
        const d = p.payload ?? p;
        return <rect x={p.cx - cellW / 2} y={p.cy - cellH / 2} width={cellW} height={cellH}
            fill={heatColor(d.value)} stroke="#a6a6a6" strokeWidth={1.6} />;
    };
    const rowLinks = treeLinks(rowTree);
    const colLinks = treeLinks(colTree);
    return (
        <>
            <div style={{ position: 'absolute', left, top }}>
                <ScatterChart width={GRID_W + 760} height={gridH + 80} margin={{ top: 0, right: 0, bottom: 0, left: 0 }}>
                    <XAxis type="number" dataKey="c" domain={[-0.5, 6.5]} ticks={[0, 1, 2, 3, 4, 5, 6]} interval={0}
                        height={80} axisLine={false} tickLine={false}
                        tick={(p: any) => (
                            <text transform={`translate(${p.x},${p.y}) rotate(90)`} dominantBaseline="central"
                                style={{ fontFamily: SERIF, fontWeight: 'bold', fontSize: 31 }}>{days[p.payload.value]}</text>
                        )} />
                    <YAxis type="number" dataKey="r" orientation="right" reversed domain={[-0.5, names.length - 0.5]}
                        ticks={names.map((_: string, i: number) => i)} interval={0} width={760} axisLine={false} tickLine={false}
                        tick={(p: any) => (
                            <text x={p.x - 1} y={p.y - 3} dominantBaseline="central"
                                style={{ fontFamily: SERIF, fontWeight: 'bold', fontSize: 33.7 }}>{names[p.payload.value]}</text>
                        )} />
                    <Scatter data={cells} shape={Cellbox} isAnimationActive={false} />
                </ScatterChart>
            </div>
            <div style={{ position: 'absolute', left: left - DENDRO, top }}>
                <LineChart width={DENDRO} height={gridH} margin={{ top: 0, right: 0, bottom: 0, left: 0 }}>
                    <XAxis type="number" dataKey="h" domain={[0, DENDRO]} reversed hide />
                    <YAxis type="number" domain={[-0.5, names.length - 0.5]} reversed hide />
                    {rowLinks.map((pts, i) => (
                        <Line key={i} data={pts.map(([h, pos]) => ({ h, pos }))} dataKey="pos" dot={false}
                            stroke="#3a3a3a" strokeWidth={2} isAnimationActive={false} />
                    ))}
                </LineChart>
            </div>
            <div style={{ position: 'absolute', left, top: top - DENDRO }}>
                <LineChart width={GRID_W} height={DENDRO} margin={{ top: 0, right: 0, bottom: 0, left: 0 }}>
                    <XAxis type="number" dataKey="pos" domain={[-0.5, 6.5]} hide />
                    <YAxis type="number" domain={[0, DENDRO]} hide />
                    {colLinks.map((pts, i) => (
                        <Line key={i} data={pts.map(([h, pos]) => ({ h, pos }))} dataKey="h" dot={false}
                            stroke="#3a3a3a" strokeWidth={2} isAnimationActive={false} />
                    ))}
                </LineChart>
            </div>
        </>
    );
}

function ColorScale() {
    const low = -2.19;
    const high = 2.14;
    return (
        <div style={{ position: 'absolute', left: 2197, top: 885 }}>
            <BarChart width={90} height={361} data={[{ name: 'scale', range: [low, high] }]} barCategoryGap={0}
                margin={{ top: 0, right: 0, bottom: 0, left: 0 }}>
                <defs>
                    <linearGradient id="heatScale" x1="0" y1="0" x2="0" y2="1">
                        <stop offset="0%" stopColor="#cd2626" />
                        <stop offset="49.4%" stopColor="#ffffff" />
                        <stop offset="100%" stopColor="#000080" />
                    </linearGradient>
                </defs>
                <XAxis dataKey="name" hide />
                <YAxis orientation="right" domain={[low, high]} ticks={scaleTicks} interval={0} width={66}
                    axisLine={false} tickLine={false}
                    tick={(p: any) => (
                        <text x={p.x} y={p.y} dominantBaseline="central"
                            style={{ fontFamily: SERIF, fontWeight: 'bold', fontSize: 31 }}>{String(p.payload.value).replace('-', '−')}</text>
                    )} />
                <Bar dataKey="range" fill="url(#heatScale)" isAnimationActive={false} />
            </BarChart>
        </div>
    );
}

function Volcano() {
    const toPoints = (list: number[][]) => list.map(([x, y]) => ({ x, y }));
    const fromRows = (rows: number[][]) => rows.flatMap(([y, ...xs]) => xs.map(x => ({ x, y })));
    const dot = (fill: string, opacity: number) => (p: any) => <circle cx={p.cx} cy={p.cy} r={6} fill={fill} fillOpacity={opacity} />;
    const tickStyle = { fontFamily: SERIF, fontWeight: 'bold', fontSize: 29, fill: '#000' };
    const legendStyle = { fontFamily: SERIF, fontWeight: 'bold', fontSize: 31.5 } as const;
    const LegendLayer = () => (
        <g style={legendStyle}>
            <text x={461} y={71}>Total Unigenes: 15815</text>
            <circle cx={437} cy={102} r={9} fill="#d2606c" />
            <text x={461} y={112}>Significant Up: 1465</text>
            <circle cx={437} cy={142} r={9} fill="#4a7ab8" />
            <text x={461} y={153}>Significant Down: 1295</text>
        </g>
    );
    return (
        <div style={{ position: 'absolute', left: 2150, top: 1200 }}>
            <ScatterChart width={1076} height={1060} margin={{ top: 30, right: 14, bottom: 9, left: 39 }}>
                <XAxis type="number" dataKey="x" domain={[-12.55, 32]} ticks={volcanoXTicks} interval={0} height={100}
                    axisLine={false} tickLine={false} tick={tickStyle} tickMargin={8}
                    tickFormatter={(v: number) => String(v).replace('-', '−')}
                    label={{ value: 'log2(Fold Change)', position: 'insideBottom', offset: 14, style: { fontFamily: SERIF, fontWeight: 'bold', fontSize: 38.5, fill: '#000' } }} />
                <YAxis type="number" dataKey="y" domain={[-1.76, 36.8]} ticks={volcanoYTicks} interval={0} width={100}
                    axisLine={false} tickLine={false} tick={tickStyle} tickMargin={8}
                    label={{ value: '−log10(padj)', angle: -90, position: 'insideLeft', offset: 0, style: { fontFamily: SERIF, fontWeight: 'bold', fontSize: 38, fill: '#000', textAnchor: 'middle' } }} />
                <Scatter data={toPoints(nsPoints)} shape={dot('#959595', 0.9)} isAnimationActive={false} />
                <Scatter data={[...fromRows(downRows), ...toPoints(downPoints)]} shape={dot('#1f5a9e', 0.92)} isAnimationActive={false} />
                <Scatter data={[...fromRows(upRows), ...toPoints(upPoints)]} shape={dot('#c63d4e', 0.92)} isAnimationActive={false} />
                <ReferenceLine x={-1} stroke="#222" strokeWidth={2} strokeDasharray="26 20" />
                <ReferenceLine x={1} stroke="#222" strokeWidth={2} strokeDasharray="26 20" />
                <ReferenceLine y={1.3} stroke="#222" strokeWidth={2} strokeDasharray="30 28" />
                <ReferenceArea x1={-12.55} x2={32} y1={-1.76} y2={36.8} fill="none" stroke="#777" strokeWidth={3} />
                {geneLeaders.map((l, i) => (
                    <ReferenceLine key={i} segment={[{ x: l[0], y: l[1] }, { x: l[2], y: l[3] }]} stroke="#111" strokeWidth={1.6} />
                ))}
                <Scatter data={genePoints} isAnimationActive={false}
                    shape={(p: any) => (
                        <g>
                            <circle cx={p.cx} cy={p.cy} r={6} fill="#c63d4e" />
                            <circle cx={p.cx} cy={p.cy} r={13} fill="none" stroke="#222" strokeWidth={1.6} />
                        </g>
                    )} />
                <Scatter data={geneLabels} isAnimationActive={false}
                    shape={(p: any) => (
                        <text x={p.cx} y={p.cy} textAnchor="middle" dominantBaseline="central"
                            style={{ fontFamily: SERIF, fontWeight: 'bold', fontSize: 31 }}>{(p.payload ?? p).name}</text>
                    )} />
                <Customized component={LegendLayer} />
            </ScatterChart>
        </div>
    );
}

const panelLetters = [
    ['A', 40, 65], ['B', 1008, 52], ['C', 2334, 51], ['D', 2342, 635], ['E', 42, 912], ['F', 1067, 892], ['G', 2356, 1184]
];

export default function App() {
    return (
        <div style={{ position: 'absolute', left: 0, top: 0, width: 3226, height: 2266, background: '#fff', overflow: 'hidden', fontFamily: SERIF }}>
            <ChordPanel species={speciesA} flows={flowsA} labelPos={labelPosA} lactoColor="#d8dad8" seamColor="#cfd1cf" cx={394} cy={430} radius={332} trackIn={311} />
            <ChordPanel species={speciesB} flows={flowsB} labelPos={labelPosB} lactoColor="#7786ab" seamColor="#5f6d92" cx={1536} cy={434} radius={350} trackIn={326} />
            <VennPanel counts={countsC} core={160} centerX={2705} centerY={280} coreR={110.5} coreX={-0.017} labelX={-0.049} labelY={-0.02} />
            <VennPanel counts={countsD} core={2261} centerX={2714} centerY={851} coreR={123} coreX={0} labelX={-0.01} labelY={-0.05} />
            <Heatmap left={187} top={989} gridH={1184} names={namesE} values={valuesE} rowTree={rowTreeE} colTree={colTreeE} />
            <Heatmap left={1222} top={1014} gridH={1187} names={namesF} values={valuesF} rowTree={rowTreeF} colTree={colTreeF} />
            <ColorScale />
            <Volcano />
            <svg width={3226} height={2266} style={{ position: 'absolute', left: 0, top: 0, pointerEvents: 'none' }}>
                {panelLetters.map(([letter, x, y]) => (
                    <text key={letter as string} x={x as number} y={y as number} fontFamily={SERIF} fontWeight="bold" fontSize={48}>{letter}</text>
                ))}
            </svg>
        </div>
    );
}
